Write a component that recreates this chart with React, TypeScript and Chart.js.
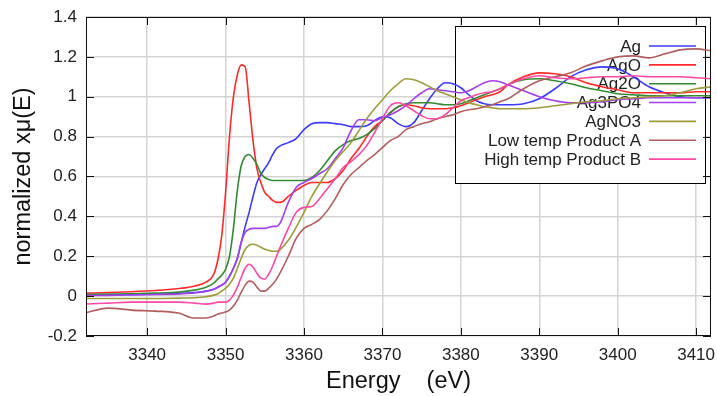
import React, { useEffect, useRef } from 'react';
import { Chart, registerables } from 'chart.js';

Chart.register(...registerables);

// Photon energy grid (eV)
const energy = [
  3332, 3335, 3338, 3341, 3344, 3346, 3347.5, 3348.5,
  3349, 3349.5, 3350, 3350.5, 3351, 3351.5, 3352, 3352.5, 3353, 3353.5, 3354, 3354.5, 3355, 3355.5, 3356, 3356.5, 3357,
  3358, 3359, 3360, 3361, 3362, 3363, 3364, 3365, 3366, 3367, 3368, 3369, 3370, 3371, 3372, 3373, 3374, 3375, 3376, 3377,
  3378, 3379, 3380, 3381, 3382, 3383, 3384, 3385, 3386,
  3388, 3390, 3392, 3394, 3396, 3398, 3400, 3402, 3404, 3406, 3408, 3410, 3412,
];

const agMu = [
  0.005, 0.006, 0.008, 0.01, 0.013, 0.018, 0.025, 0.035,
  0.045, 0.055, 0.07, 0.10, 0.14, 0.19, 0.27, 0.35, 0.42, 0.50, 0.57, 0.61, 0.64, 0.67, 0.71, 0.74, 0.755,
  0.77, 0.79, 0.835, 0.865, 0.87, 0.87, 0.865, 0.86, 0.85, 0.85, 0.855, 0.88, 0.90, 0.895, 0.865, 0.85, 0.87, 0.93, 0.99, 1.04,
  1.07, 1.065, 1.045, 1.01, 0.98, 0.965, 0.96, 0.96, 0.96,
  0.965, 0.99, 1.04, 1.10, 1.135, 1.15, 1.14, 1.10, 1.05, 1.02, 1.0, 0.995, 0.995,
];

const agoMu = [
  0.015, 0.018, 0.022, 0.028, 0.038, 0.05, 0.07, 0.11,
  0.18, 0.30, 0.52, 0.80, 1.0, 1.11, 1.16, 1.15, 0.97, 0.78, 0.64, 0.57, 0.52, 0.50, 0.48, 0.47, 0.47,
  0.50, 0.53, 0.555, 0.57, 0.57, 0.57, 0.59, 0.63, 0.69, 0.74, 0.80, 0.85, 0.88, 0.92, 0.95, 0.96, 0.955, 0.945, 0.94, 0.94,
  0.94, 0.945, 0.955, 0.97, 0.985, 1.0, 1.01, 1.025, 1.06,
  1.10, 1.12, 1.115, 1.10, 1.07, 1.05, 1.035, 1.02, 1.02, 1.02, 1.02, 1.025, 1.025,
];

const ag2oMu = [
  0.008, 0.01, 0.012, 0.015, 0.02, 0.03, 0.045, 0.065,
  0.085, 0.105, 0.135, 0.20, 0.34, 0.53, 0.655, 0.70, 0.71, 0.69, 0.66, 0.615, 0.595, 0.585, 0.58, 0.58, 0.58,
  0.58, 0.58, 0.58, 0.595, 0.63, 0.68, 0.73, 0.76, 0.78, 0.79, 0.81, 0.84, 0.88, 0.92, 0.95, 0.965, 0.97, 0.97, 0.97, 0.965,
  0.96, 0.96, 0.965, 0.98, 0.995, 1.01, 1.025, 1.04, 1.06,
  1.085, 1.09, 1.08, 1.065, 1.045, 1.03, 1.015, 1.01, 1.005, 1.005, 1.005, 1.005, 1.005,
];

const ag3po4Mu = [
  0.003, 0.004, 0.006, 0.008, 0.011, 0.016, 0.024, 0.034,
  0.043, 0.055, 0.07, 0.10, 0.14, 0.19, 0.27, 0.32, 0.335, 0.34, 0.34, 0.34, 0.34, 0.345, 0.35, 0.35, 0.37,
  0.47, 0.545, 0.57, 0.59, 0.615, 0.64, 0.69, 0.745, 0.83, 0.885, 0.885, 0.88, 0.895, 0.91, 0.93, 0.955, 0.99, 1.02, 1.04, 1.035,
  1.03, 1.025, 1.02, 1.03, 1.05, 1.07, 1.08, 1.075, 1.06,
  1.03, 1.0, 0.98, 0.97, 0.97, 0.975, 0.985, 0.99, 0.995, 0.995, 0.995, 0.995, 0.995,
];

const agno3Mu = [
  -0.012, -0.012, -0.012, -0.012, -0.01, -0.008, -0.003, 0.005,
  0.012, 0.025, 0.04, 0.06, 0.09, 0.14, 0.19, 0.235, 0.255, 0.26, 0.255, 0.245, 0.235, 0.23, 0.225, 0.225, 0.235,
  0.28, 0.345, 0.42, 0.50, 0.565, 0.625, 0.68, 0.725, 0.77, 0.83, 0.89, 0.94, 0.985, 1.03, 1.065, 1.09, 1.085, 1.07, 1.05, 1.03,
  1.015, 1.0, 0.985, 0.97, 0.96, 0.95, 0.945, 0.94, 0.94,
  0.94, 0.945, 0.955, 0.965, 0.975, 0.98, 0.99, 0.995, 1.0, 1.005, 1.02, 1.04, 1.05,
];

const lowTempMu = [
  -0.085, -0.06, -0.07, -0.075, -0.085, -0.11, -0.11, -0.10,
  -0.09, -0.085, -0.08, -0.07, -0.05, -0.02, 0.02, 0.055, 0.075, 0.07, 0.045, 0.025, 0.025, 0.04, 0.06, 0.085, 0.12,
  0.20, 0.29, 0.34, 0.36, 0.385, 0.43, 0.49, 0.56, 0.61, 0.645, 0.68, 0.71, 0.745, 0.78, 0.80, 0.835, 0.85, 0.865, 0.875, 0.89,
  0.90, 0.91, 0.925, 0.935, 0.94, 0.95, 0.96, 0.975, 0.99,
  1.04, 1.08, 1.10, 1.12, 1.155, 1.18, 1.20, 1.205, 1.195, 1.215, 1.235, 1.24, 1.23,
];

const highTempMu = [
  -0.04, -0.035, -0.03, -0.03, -0.03, -0.035, -0.04, -0.035,
  -0.03, -0.03, -0.03, -0.02, 0.005, 0.045, 0.095, 0.14, 0.16, 0.145, 0.115, 0.09, 0.085, 0.11, 0.15, 0.20, 0.25,
  0.34, 0.42, 0.445, 0.45, 0.49, 0.54, 0.59, 0.645, 0.675, 0.71, 0.755, 0.82, 0.89, 0.955, 0.97, 0.955, 0.93, 0.905, 0.89, 0.89,
  0.91, 0.945, 0.98, 0.995, 1.01, 1.02, 1.025, 1.04, 1.06,
  1.09, 1.105, 1.095, 1.09, 1.095, 1.10, 1.10, 1.105, 1.10, 1.10, 1.10, 1.095, 1.09,
];

const seriesNames = ['Ag', 'AgO', 'Ag2O', 'Ag3PO4', 'AgNO3', 'Low temp Product A', 'High temp Product B'];
const seriesValues = [agMu, agoMu, ag2oMu, ag3po4Mu, agno3Mu, lowTempMu, highTempMu];
const seriesColors = ['#3b3bff', '#ff2a2a', '#338a33', '#a43fec', '#9c9c3c', '#b05e5e', '#ff4aa5'];

const xTickValues = [3340, 3350, 3360, 3370, 3380, 3390, 3400, 3410];
const yTickValues = [-0.2, 0, 0.2, 0.4, 0.6, 0.8, 1, 1.2, 1.4];

const FONT = '"Liberation Sans", Arial, sans-serif';

const keyPlugin = {
  id: 'gnuKey',
  beforeDatasetsDraw(chart: any) {
    const ctx = chart.ctx;
    const ca = chart.chartArea;
    const left = ca.right - 256;
    const top = ca.top + 9;
    const right = ca.right - 6;
    const bottom = ca.top + 166;
    ctx.save();
    ctx.fillStyle = '#ffffff';
    ctx.fillRect(left, top, right - left, bottom - top);
    ctx.strokeStyle = '#000000';
    ctx.lineWidth = 1;
    ctx.strokeRect(Math.round(left) + 0.5, Math.round(top) + 0.5, right - left, bottom - top);
    ctx.font = `17px ${FONT}`;
    ctx.textAlign = 'right';
    ctx.textBaseline = 'middle';
    seriesNames.forEach((name, i) => {
      const y = top + 20 + i * 18.85;
      ctx.fillStyle = '#222222';
      ctx.fillText(name, right - 64, y + 1);
      ctx.strokeStyle = seriesColors[i];
      ctx.lineWidth = 1.6;
      ctx.beginPath();
      ctx.moveTo(right - 56, y);
      ctx.lineTo(right - 9, y);
      ctx.stroke();
    });
    ctx.restore();
  },
};

const framePlugin = {
  id: 'gnuFrame',
  afterDatasetsDraw(chart: any) {
    const ctx = chart.ctx;
    const ca = chart.chartArea;
    const xs = chart.scales.x;
    const ys = chart.scales.y;
    ctx.save();
    ctx.strokeStyle = '#111111';
    ctx.lineWidth = 1;
    ctx.beginPath();
    xTickValues.forEach((v) => {
      const px = Math.round(xs.getPixelForValue(v)) + 0.5;
      ctx.moveTo(px, ca.bottom);
      ctx.lineTo(px, ca.bottom - 8);
      ctx.moveTo(px, ca.top);
      ctx.lineTo(px, ca.top + 8);
    });
    yTickValues.forEach((v) => {
      const py = Math.round(ys.getPixelForValue(v)) + 0.5;
      ctx.moveTo(ca.left, py);
      ctx.lineTo(ca.left + 8, py);
      ctx.moveTo(ca.right, py);
      ctx.lineTo(ca.right - 8, py);
    });
    ctx.stroke();
    ctx.strokeRect(Math.round(ca.left) + 0.5, Math.round(ca.top) + 0.5, Math.round(ca.right - ca.left) - 1, Math.round(ca.bottom - ca.top) - 1);
    ctx.restore();
  },
};

export default function App() {
  const canvasRef = useRef<HTMLCanvasElement>(null);

  useEffect(() => {
    if (!canvasRef.current) return;
    const chart = new Chart(canvasRef.current, {
      type: 'line',
      data: {
        datasets: seriesNames.map((name, s) => ({
          label: name,
          data: energy.map((x, i) => ({ x, y: seriesValues[s][i] })),
          borderColor: seriesColors[s],
          backgroundColor: seriesColors[s],
          borderWidth: 1.6,
          pointRadius: 0,
          cubicInterpolationMode: 'monotone' as const,
          fill: false,
          clip: 0,
          order: seriesNames.length - s,
        })),
      },
      options: {
        animation: false,
        responsive: false,
        devicePixelRatio: 1,
        layout: { padding: { left: 0, right: 6, top: 17, bottom: 0 } },
        plugins: {
          legend: { display: false },
          tooltip: { enabled: false },
        },
        scales: {
          x: {
            type: 'linear',
            min: 3332.2,
            max: 3411.9,
            afterBuildTicks: (s: any) => {
              s.ticks = xTickValues.map((v) => ({ value: v }));
            },
            afterFit: (s: any) => {
              s.height = 60;
              s.paddingLeft = 0;
              s.paddingRight = 0;
            },
            grid: { color: '#d4d4d4', lineWidth: 1.5, drawTicks: false },
            border: { display: false },
            ticks: {
              padding: 9,
              color: '#222222',
              font: { family: FONT, size: 17 },
              callback: (v: any) => String(v),
              maxRotation: 0,
            },
            title: {
              display: true,
              text: 'Energy    (eV)',
              color: '#111111',
              font: { family: FONT, size: 23.5 },
              padding: { top: 0, bottom: 0 },
            },
          },
          y: {
            type: 'linear',
            min: -0.2,
            max: 1.4,
            afterBuildTicks: (s: any) => {
              s.ticks = yTickValues.map((v) => ({ value: v }));
            },
            afterFit: (s: any) => {
              s.width = 86;
              s.paddingTop = 0;
              s.paddingBottom = 0;
            },
            grid: { color: '#d4d4d4', lineWidth: 1.5, drawTicks: false },
            border: { display: false },
            ticks: {
              padding: 9,
              color: '#222222',
              font: { family: FONT, size: 17 },
              callback: (v: any) => String(Math.round(Number(v) * 10) / 10),
            },
            title: {
              display: true,
              text: 'normalized xμ(E)',
              color: '#111111',
              font: { family: FONT, size: 23.5 },
              padding: { top: 9, bottom: 0 },
            },
          },
        },
      },
      plugins: [keyPlugin, framePlugin],
    });
    return () => chart.destroy();
  }, []);

  return (
    <div style={{ position: 'absolute', left: 0, top: 0, width: 717, height: 396, background: '#ffffff' }}>
      <canvas ref={canvasRef} width={717} height={396} style={{ display: 'block' }} />
    </div>
  );
}
